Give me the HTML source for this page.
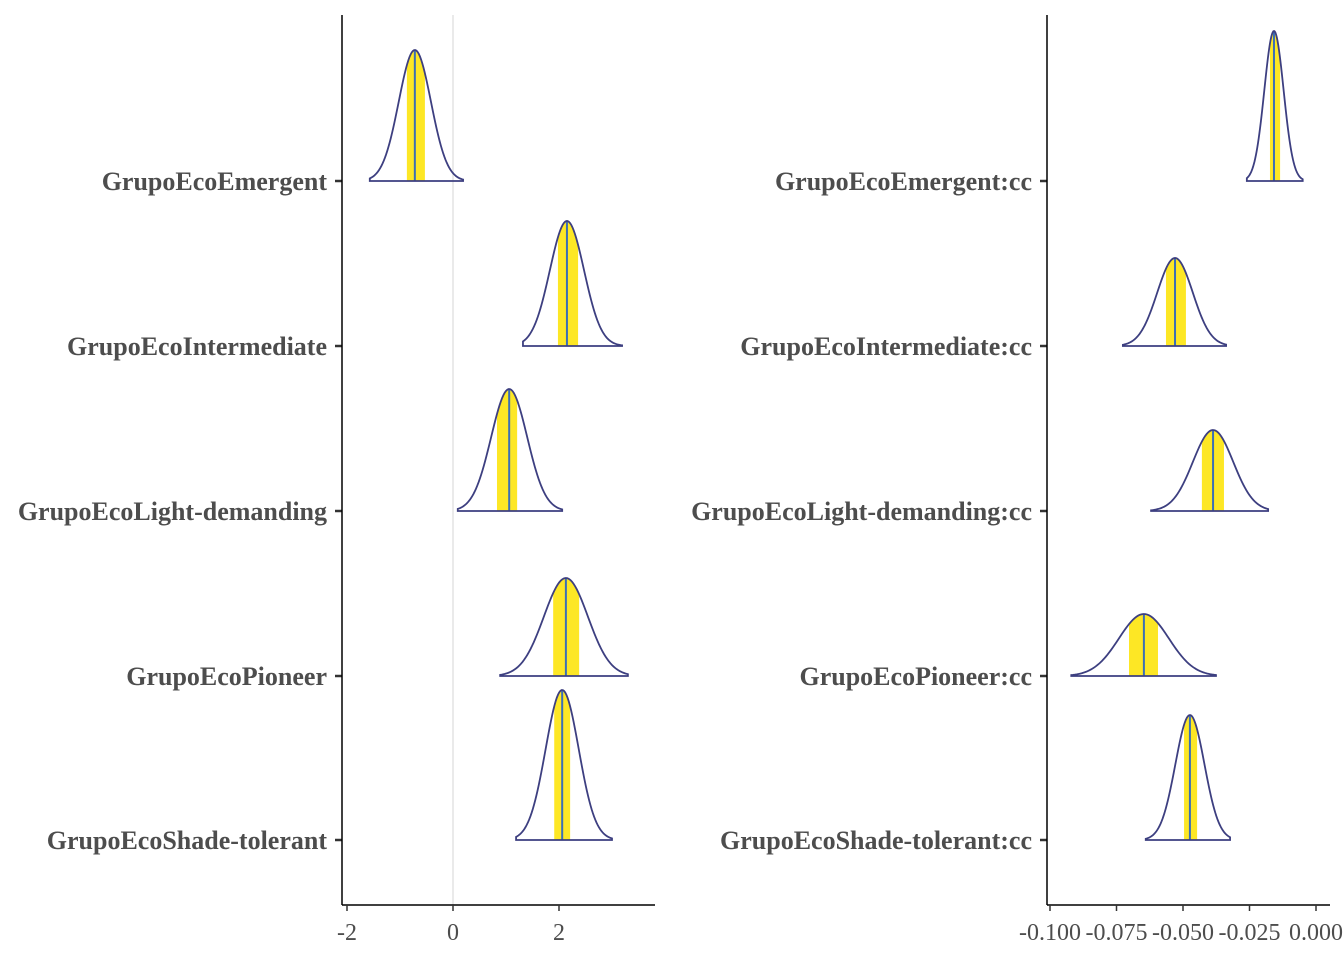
<!DOCTYPE html>
<html><head><meta charset="utf-8">
<style>
html,body{margin:0;padding:0;background:#fff;}
svg{display:block;font-family:"Liberation Serif",serif;}
</style></head>
<body>
<svg id="chart" width="1344" height="960"></svg>
<script>
const leftLabels=["GrupoEcoEmergent","GrupoEcoIntermediate","GrupoEcoLight-demanding","GrupoEcoPioneer","GrupoEcoShade-tolerant"];
const leftPeak=[-0.72,2.15,1.06,2.13,2.06];
const leftMin=[-1.57,1.32,0.09,0.89,1.19];
const leftMax=[0.19,3.19,2.06,3.30,3.00];
const leftLo=[-0.87,1.98,0.83,1.89,1.91];
const leftHi=[-0.53,2.36,1.21,2.38,2.21];
const leftHeight=[131,125,122,98,150];
const leftTicks=[-2,0,2];
const leftTickLabels=["-2","0","2"];

const rightLabels=["GrupoEcoEmergent:cc","GrupoEcoIntermediate:cc","GrupoEcoLight-demanding:cc","GrupoEcoPioneer:cc","GrupoEcoShade-tolerant:cc"];
const rightPeak=[-0.0158,-0.053,-0.0387,-0.0647,-0.0474];
const rightMin=[-0.026,-0.0726,-0.062,-0.092,-0.064];
const rightMax=[-0.005,-0.0338,-0.018,-0.0376,-0.0323];
const rightLo=[-0.0173,-0.0564,-0.0429,-0.0703,-0.0496];
const rightHi=[-0.0135,-0.0489,-0.0346,-0.0594,-0.0447];
const rightHeight=[150,88,81,62,125];
const rightTicks=[-0.1,-0.075,-0.05,-0.025,0];
const rightTickLabels=["-0.100","-0.075","-0.050","-0.025","0.000"];

const rowY=[181,346,511,676,840];
const NS="http://www.w3.org/2000/svg";
const svg=document.getElementById('chart');
function mk(tag,attrs,parent){const e=document.createElementNS(NS,tag);for(const k in attrs)e.setAttribute(k,attrs[k]);(parent||svg).appendChild(e);return e;}

function panel(cfg){
  const g=mk('g',{});
  
  
  const sx=v=>cfg.x0+(v-cfg.v0)*cfg.k;
  if(cfg.zero){
    const z=mk('line',{x1:sx(0),x2:sx(0),y1:15,y2:905,stroke:'#dcdcdc','stroke-width':1.2},g);
    
    
  }
  cfg.labels.forEach((lab,i)=>{
    const base=rowY[i];
    const sd=(cfg.max[i]-cfg.min[i])/5.8;
    const dens=v=>Math.exp(-0.5*Math.pow((v-cfg.peak[i])/sd,2));
    const pts=[[sx(cfg.min[i]),base]];
    const N=80;
    for(let j=0;j<=N;j++){
      const v=cfg.min[i]+(cfg.max[i]-cfg.min[i])*j/N;
      pts.push([sx(v),base-dens(v)*cfg.h[i]]);
    }
    pts.push([sx(cfg.max[i]),base]);
    let ip=[[sx(cfg.lo[i]),base]];
    for(let j=0;j<=20;j++){const v=cfg.lo[i]+(cfg.hi[i]-cfg.lo[i])*j/20;ip.push([sx(v),base-dens(v)*cfg.h[i]]);}
    ip.push([sx(cfg.hi[i]),base]);
    const y=mk('polygon',{points:ip.map(p=>p.join(',')).join(' '),fill:'#FDE725'},g);
    
    
    const c=mk('line',{x1:sx(cfg.peak[i]),x2:sx(cfg.peak[i]),y1:base,y2:base-cfg.h[i],stroke:'#3b6fb6','stroke-width':2},g);
    
    
    const p=mk('path',{d:'M'+pts.map(q=>q.join(',')).join(' L')+' Z',fill:'none',stroke:'#3d3f80','stroke-width':1.8},g);
    
    
    const tk=mk('line',{x1:cfg.axisX-7,x2:cfg.axisX,y1:base,y2:base,stroke:'#333','stroke-width':2.5},g);
    
    
    const t=mk('text',{x:cfg.axisX-15,y:base+9,'text-anchor':'end','font-size':26,'font-weight':'bold',fill:'#4d4d4d'},g);
    t.textContent=lab;
    
    
  });
  const ax=mk('line',{x1:cfg.axisX,x2:cfg.axisX,y1:15,y2:905,stroke:'#000','stroke-width':1.5},g);
  
  
  const bx=mk('line',{x1:cfg.axisX,x2:cfg.xEnd,y1:905,y2:905,stroke:'#000','stroke-width':1.5},g);
  
  
  cfg.ticks.forEach((v,i)=>{
    const tl=mk('line',{x1:sx(v),x2:sx(v),y1:905,y2:911,stroke:'#333','stroke-width':1.5},g);
    
    
    const tt=mk('text',{x:sx(v),y:940,'text-anchor':'middle','font-size':24,fill:'#4d4d4d'},g);
    tt.textContent=cfg.tickLabels[i];
    
    
  });
}
panel({name:'left-panel',labels:leftLabels,peak:leftPeak,min:leftMin,max:leftMax,lo:leftLo,hi:leftHi,h:leftHeight,
  x0:453,v0:0,k:53,axisX:342,xEnd:655,zero:true,ticks:leftTicks,tickLabels:leftTickLabels});
panel({name:'right-panel',labels:rightLabels,peak:rightPeak,min:rightMin,max:rightMax,lo:rightLo,hi:rightHi,h:rightHeight,
  x0:1316,v0:0,k:2660,axisX:1047,xEnd:1330,zero:false,ticks:rightTicks,tickLabels:rightTickLabels});
</script>
</body></html>
